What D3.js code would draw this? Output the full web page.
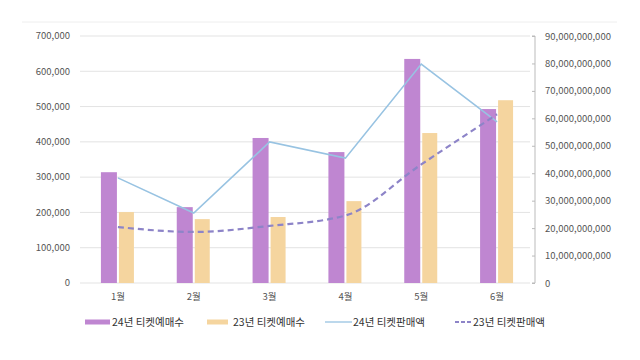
<!DOCTYPE html>
<html><head><meta charset="utf-8">
<script src="https://cdn.jsdelivr.net/npm/d3@7"></script>
<style>body{margin:0;background:#fff}svg{display:block}text{font-family:"Noto Sans CJK KR","Noto Sans",sans-serif}</style>
</head><body><svg id="c" width="640" height="360"></svg>
<script>
const months = ["1월","2월","3월","4월","5월","6월"];
const sales24 = [314000, 215000, 411000, 371000, 635000, 493000];
const sales23 = [201000, 181000, 187000, 232000, 425000, 518000];
const rev24 = [38.3e9, 25.5e9, 51.4e9, 45.5e9, 79.8e9, 58.7e9];
const rev23 = [20.4e9, 18.6e9, 20.8e9, 24.6e9, 43.2e9, 61.5e9];
const leftTicks = [0,100000,200000,300000,400000,500000,600000,700000];
const rightTicks = [0,1e10,2e10,3e10,4e10,5e10,6e10,7e10,8e10,9e10];
const seriesNames = ["24년 티켓예매수","23년 티켓예매수","24년 티켓판매액","23년 티켓판매액"];

const svg = d3.select("#c");
const L=80, R=535, T=36, B=283;
const fmt = d3.format(",");
svg.append("line").attr("x1",22).attr("x2",617).attr("y1",22).attr("y2",22).attr("stroke","#eee");

const x = d3.scaleBand().domain(months).range([L,R]);
const yL = d3.scaleLinear().domain([0,700000]).range([B,T]);
const yR = d3.scaleLinear().domain([0,9e10]).range([B,T]);

svg.append("g").selectAll("line").data(leftTicks).join("line")
 .attr("x1",L).attr("x2",R-5).attr("y1",d=>yL(d)).attr("y2",d=>yL(d))
 .attr("stroke","#e3e3e3").attr("stroke-width",1);

svg.append("g").selectAll("text").data(leftTicks).join("text")
 .attr("x",70).attr("y",d=>yL(d)).attr("dy","0.35em").attr("text-anchor","end")
 .attr("font-size",9.5).attr("fill","#555").text(d=>fmt(d));

const ra = svg.append("g").attr("transform",`translate(${R},0)`)
 .call(d3.axisRight(yR).tickValues(rightTicks).tickSize(-3).tickPadding(10).tickFormat(fmt));
ra.select(".domain").attr("stroke","#bbb").attr("d",`M-3,${T}H0V${B}H-3`);
ra.selectAll(".tick line").attr("stroke","#bbb");
ra.selectAll("text").attr("font-size",9.5).attr("fill","#555").attr("font-family",'"Noto Sans CJK KR","Noto Sans",sans-serif');

const bw=16, gap=2;
svg.append("g").selectAll("rect").data(sales24).join("rect")
 .attr("x",(d,i)=>x(months[i])+x.bandwidth()/2-bw-gap/2).attr("width",bw)
 .attr("y",d=>yL(d)).attr("height",d=>B-yL(d)).attr("fill","#bf86d1");
svg.append("g").selectAll("rect").data(sales23).join("rect")
 .attr("x",(d,i)=>x(months[i])+x.bandwidth()/2+gap/2).attr("width",bw-1)
 .attr("y",d=>yL(d)).attr("height",d=>B-yL(d)).attr("fill","#f5d59f");

svg.append("g").selectAll("text").data(months).join("text")
 .attr("x",d=>x(d)+x.bandwidth()/2).attr("y",300).attr("text-anchor","middle")
 .attr("font-size",9.5).attr("fill","#555").text(d=>d);

const cx = i=>x(months[i])+x.bandwidth()/2;
const l24 = d3.line().x((d,i)=>cx(i)).y(d=>yR(d));
const l23 = d3.line().x((d,i)=>cx(i)).y(d=>yR(d)).curve(d3.curveMonotoneX);
svg.append("path").attr("d",l24(rev24)).attr("fill","none").attr("stroke","#98c3e2").attr("stroke-width",1.6);
svg.append("path").attr("d",l23(rev23)).attr("fill","none").attr("stroke","#8d84c8").attr("stroke-width",2.2).attr("stroke-dasharray","6,4");

const lg = svg.append("g").attr("font-size",10.5).attr("fill","#333");
const items = [
 {x:85,w:25,tx:27,type:"bar",c:"#bf86d1"},
 {x:207,w:21,tx:26,type:"bar",c:"#f5d59f"},
 {x:325,w:27,tx:28,type:"line",c:"#98c3e2"},
 {x:455,w:16,tx:18,type:"dash",c:"#8d84c8"}
];
items.forEach((it,i)=>{
 const g = lg.append("g").attr("transform",`translate(${it.x},322)`);
 if(it.type==="bar") g.append("rect").attr("x",0).attr("y",-2.5).attr("width",it.w).attr("height",5).attr("fill",it.c);
 else g.append("line").attr("x1",0).attr("x2",it.w).attr("y1",0).attr("y2",0).attr("stroke",it.c)
   .attr("stroke-width",it.type==="line"?1.3:2).attr("stroke-dasharray",it.type==="dash"?"4,2":null);
 g.append("text").attr("x",it.tx).attr("y",0).attr("dy","0.35em").attr("fill","#333").text(seriesNames[i]);
});
</script></body></html>
